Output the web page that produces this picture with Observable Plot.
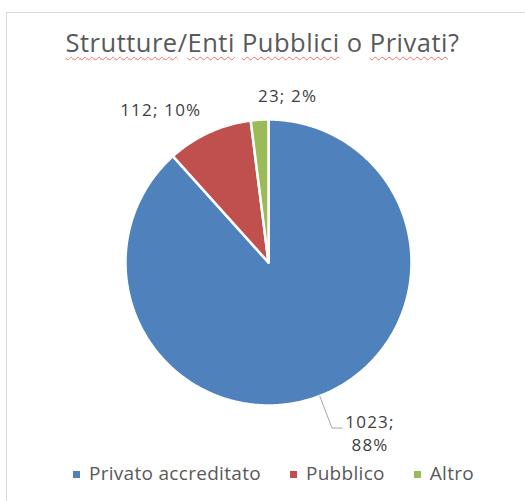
<!DOCTYPE html>
<html>
<head>
<meta charset="utf-8">
<script src="https://cdn.jsdelivr.net/npm/d3@7"></script>
<script src="https://cdn.jsdelivr.net/npm/@observablehq/plot@0.6"></script>
<style>
  html, body { margin: 0; padding: 0; background: #fff; }
  body { width: 525px; height: 501px; overflow: hidden; position: relative; font-family: "Open Sans", sans-serif; }
  #frame { position: absolute; left: 6px; top: 12px; width: 700px; height: 700px; border: 1px solid #d9d9d9; box-sizing: border-box; }
  #title { position: absolute; left: 0; width: 525px; top: 25px; text-align: center; font-size: 25.5px; letter-spacing: 0.5px; color: #595959; white-space: nowrap; }
  #title .sp { text-decoration: underline wavy #ff6b6b; text-decoration-thickness: 1px; text-underline-offset: 4px; }
  #chart { position: absolute; left: 0; top: 0; }
  #chart text { letter-spacing: 1.2px; }
  #legend { position: absolute; left: 0; width: 547px; top: 460px; display: flex; justify-content: center; gap: 29px; font-size: 19px; letter-spacing: 0.3px; color: #595959; }
  #legend .item { display: flex; align-items: center; gap: 9px; }
  #legend .sw { width: 7px; height: 7px; display: inline-block; margin-top: 2px; }
</style>
</head>
<body>
<div id="frame"></div>
<div id="title"><span class="sp">Strutture</span>/<span class="sp">Enti</span> <span class="sp">Pubblici</span> o <span class="sp">Privati</span>?</div>
<div id="chart"></div>
<div id="legend"></div>
<script>
const categories = ["Privato accreditato", "Pubblico", "Altro"];
const values = [1023, 112, 23];
const percents = ["88%", "10%", "2%"];
const colors = ["#4f81bd", "#c0504d", "#9bbb59"];

const arcs = d3.pie().sort(null)(values);
const slicePts = [];
arcs.forEach((a, i) => {
  const cat = categories[i];
  slicePts.push({cat, x: 0, y: 0});
  const n = Math.max(4, Math.ceil((a.endAngle - a.startAngle) / 0.01));
  for (let k = 0; k <= n; k++) {
    const t = a.startAngle + (a.endAngle - a.startAngle) * k / n;
    slicePts.push({cat, x: Math.sin(t), y: Math.cos(t)});
  }
  slicePts.push({cat, x: 0, y: 0});
});
const mid = arcs.map(a => (a.startAngle + a.endAngle) / 2);
const polar = (ang, r) => ({x: Math.sin(ang) * r, y: Math.cos(ang) * r});

const lbl = (i) => `${values[i]}; ${percents[i]}`;
const redPos = polar(mid[1], 1.13);
const greenPos = polar(mid[2], 1.18);
const bluePos = polar(mid[0], 1.0);
const elbow = polar(mid[0], 1.24);
const leader = [bluePos, elbow, {x: elbow.x + 0.07, y: elbow.y}];

const R = 143;
const W = 525, H = 501, cx = 268, cy = 262;

const plot = Plot.plot({
  width: W, height: H,
  margin: 0,
  x: {domain: [-cx / R, (W - cx) / R], axis: null},
  y: {domain: [-(H - cy) / R, cy / R], axis: null},
  color: {domain: categories, range: colors},
  style: {background: "transparent", fontFamily: "'Open Sans', sans-serif"},
  marks: [
    Plot.line(slicePts, {x: "x", y: "y", z: "cat", fill: "cat", stroke: "white", strokeWidth: 2.5, strokeLinejoin: "round"}),
    Plot.line(leader, {x: "x", y: "y", stroke: "#a6a6a6", strokeWidth: 1}),
    Plot.text([redPos], {x: "x", y: "y", text: () => lbl(1), textAnchor: "end", lineAnchor: "bottom", fontSize: 17, fill: "#404040"}),
    Plot.text([greenPos], {x: "x", y: "y", text: () => lbl(2), textAnchor: "start", lineAnchor: "bottom", dx: 0, dy: 8, fontSize: 17, fill: "#404040"}),
    Plot.text([leader[2]], {x: "x", y: "y", text: () => `${values[0]};\n${percents[0]}`, textAnchor: "middle", lineAnchor: "top", dx: 28, dy: -16, lineHeight: 1.35, fontSize: 17, fill: "#404040"})
  ]
});
document.getElementById("chart").appendChild(plot);

const leg = document.getElementById("legend");
categories.forEach((c, i) => {
  const it = document.createElement("div");
  it.className = "item";
  const sw = document.createElement("span");
  sw.className = "sw";
  sw.style.background = colors[i];
  const tx = document.createElement("span");
  tx.textContent = c;
  it.appendChild(sw); it.appendChild(tx);
  leg.appendChild(it);
});
</script>
</body>
</html>
